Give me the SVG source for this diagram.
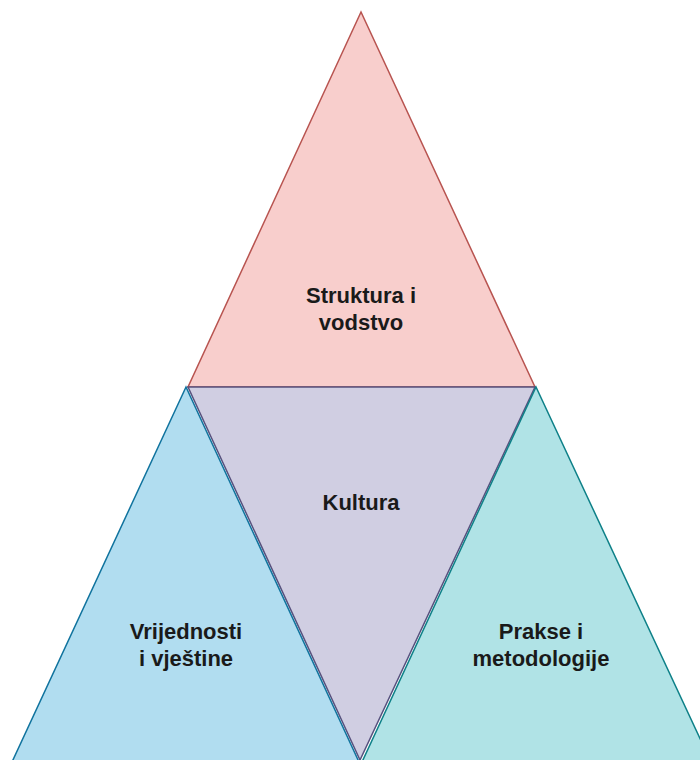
<svg xmlns="http://www.w3.org/2000/svg" width="700" height="760" viewBox="0 0 700 760">
<style>
.lbl{font-family:"Liberation Sans",Arial,sans-serif;font-weight:bold;font-size:22px;fill:#1a1a1a;text-anchor:middle}
.t{stroke-width:1.5;stroke-linejoin:miter}
</style>
<rect width="700" height="760" fill="#ffffff"/>
<g id="top">
<polygon class="t" points="361,12 188,387 535,387" fill="#F8CECC" stroke="#B85450"/>
<text class="lbl" x="361" y="303">Struktura i</text>
<text class="lbl" x="361" y="330">vodstvo</text>
</g>
<g id="middle">
<polygon class="t" points="188,387 535,387 360,760" fill="#D0CEE2" stroke="#56517E"/>
<text class="lbl" x="361" y="510">Kultura</text>
</g>
<g id="left">
<polygon class="t" points="186,387 12,762 359,762" fill="#B1DDF0" stroke="#10739E"/>
<text class="lbl" x="186" y="639">Vrijednosti</text>
<text class="lbl" x="186" y="666">i vještine</text>
</g>
<g id="right">
<polygon class="t" points="536,387 362,762 711,762" fill="#B0E3E6" stroke="#0E8088"/>
<text class="lbl" x="541" y="639">Prakse i</text>
<text class="lbl" x="541" y="666">metodologije</text>
</g>
<g id="connectors"></g>
</svg>
